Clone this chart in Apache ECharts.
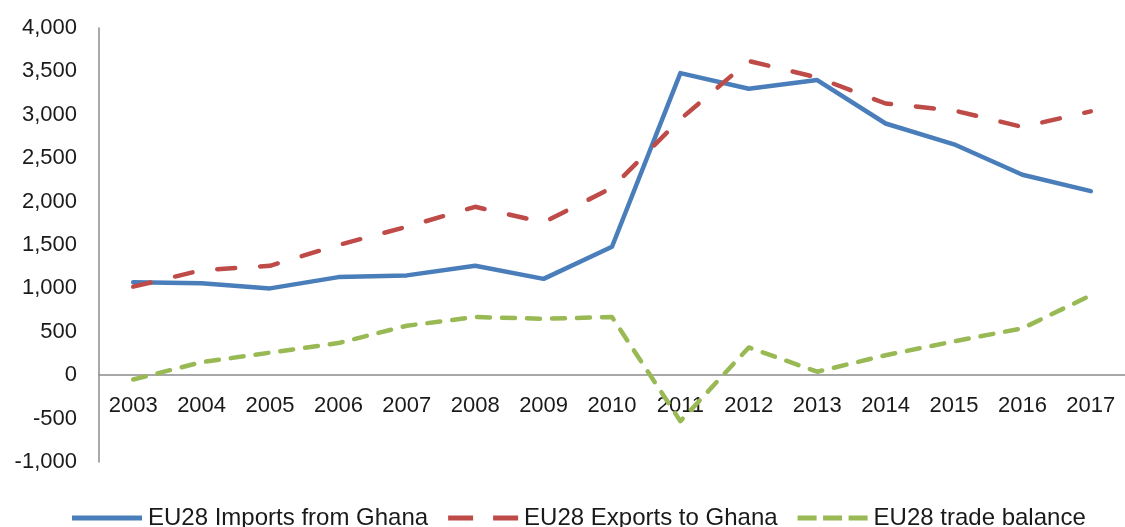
<!DOCTYPE html>
<html>
<head>
<meta charset="utf-8">
<script src="https://cdn.jsdelivr.net/npm/echarts@6/dist/echarts.min.js"></script>
<style>
  html, body { margin: 0; padding: 0; background: #fff; }
  #chart { width: 1125px; height: 527px; }
</style>
</head>
<body>
<div id="chart"></div>
<script>
// EU28 trade with Ghana, EUR million
const years = ['2003','2004','2005','2006','2007','2008','2009','2010','2011','2012','2013','2014','2015','2016','2017'];
const importsFromGhana = [1070, 1060, 1000, 1130, 1150, 1260, 1110, 1480, 3480, 3300, 3400, 2900, 2660, 2310, 2120];
const exportsToGhana   = [1020, 1210, 1260, 1500, 1710, 1940, 1760, 2160, 2950, 3620, 3430, 3130, 3050, 2860, 3040];
const tradeBalance     = [-50, 150, 260, 370, 570, 670, 650, 670, -530, 320, 40, 230, 390, 540, 920];

const Y_MIN = -1000, Y_MAX = 4000;

const FONT = '"Liberation Sans", Arial, sans-serif';
const TEXT = '#1a1a1a';
const AXIS = '#8c8c8c';

// plot box
const GRID_TOP = 28, GRID_H = 434;
// the category axis sits on the value-axis zero line
const zeroOffset = -GRID_H * (0 - Y_MIN) / (Y_MAX - Y_MIN);

const chart = echarts.init(document.getElementById('chart'), null, { renderer: 'canvas' });

function lineSeries(name, data, color, dash) {
  return {
    name: name,
    type: 'line',
    data: data,
    symbol: 'none',
    smooth: false,
    lineStyle: { color: color, width: 4.5, type: dash, cap: 'round', join: 'round' },
    itemStyle: { color: color },
    emphasis: { disabled: true }
  };
}

chart.setOption({
  animation: false,
  grid: { left: 99, top: GRID_TOP, width: 1032, height: GRID_H, containLabel: false },
  legend: {
    top: 506,
    left: 72,
    padding: 0,
    itemWidth: 70,
    itemHeight: 5,
    itemGap: 20,
    textStyle: { fontFamily: FONT, fontSize: 24, color: TEXT, padding: [0, 0, 0, 1] },
    data: [
      { name: 'EU28 Imports from Ghana', icon: 'path://M0,0h70v5h-70z' },
      { name: 'EU28 Exports to Ghana', icon: 'path://M0,0h25v5h-25z M45,0h25v5h-25z' },
      { name: 'EU28 trade balance', icon: 'path://M0,0h19v5h-19z M25.5,0h19v5h-19z M51,0h19v5h-19z' }
    ]
  },
  xAxis: {
    type: 'category',
    data: years,
    boundaryGap: true,
    position: 'bottom',
    offset: zeroOffset,
    axisLine: { onZero: false, lineStyle: { color: AXIS, width: 1.5 } },
    axisTick: { show: false },
    axisLabel: { fontFamily: FONT, fontSize: 22, color: TEXT, margin: 20, interval: 0 },
    splitLine: { show: false }
  },
  yAxis: {
    type: 'value',
    min: Y_MIN,
    max: Y_MAX,
    interval: 500,
    axisLine: { show: true, lineStyle: { color: AXIS, width: 1.5 } },
    axisTick: { show: false },
    splitLine: { show: false },
    axisLabel: {
      fontFamily: FONT, fontSize: 22, color: TEXT, margin: 22,
      formatter: v => v.toLocaleString('en-US')
    }
  },
  series: [
    lineSeries('EU28 Imports from Ghana', importsFromGhana, '#4a7ebb', 'solid'),
    lineSeries('EU28 Exports to Ghana', exportsToGhana, '#be4b48', [18, 25]),
    lineSeries('EU28 trade balance', tradeBalance, '#98b954', [13, 12])
  ]
});
</script>
</body>
</html>
